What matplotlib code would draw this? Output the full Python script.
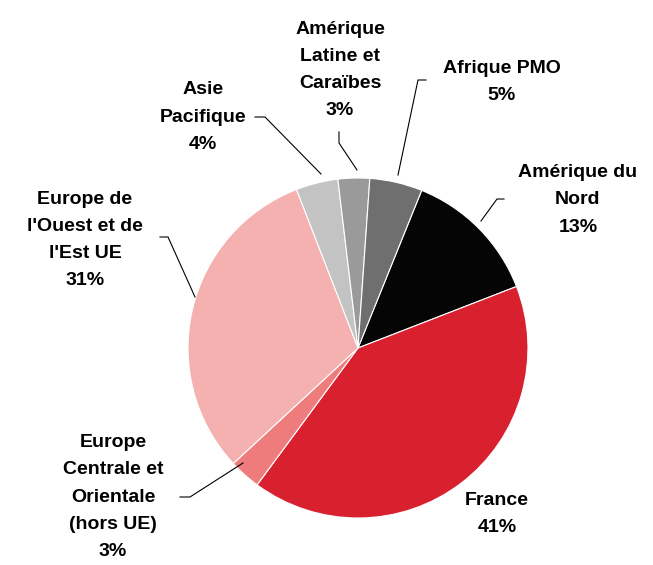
import matplotlib
matplotlib.use("Agg")
import matplotlib.pyplot as plt

# parts of the total, clockwise from Amérique du Nord
labels = ["Amérique du\nNord", "France", "Europe\nCentrale et\nOrientale\n(hors UE)",
          "Europe de\nl'Ouest et de\nl'Est UE", "Asie\nPacifique",
          "Amérique\nLatine et\nCaraïbes", "Afrique PMO"]
shares = [13, 41, 3, 31, 4, 3, 5]
colors = ["#050505", "#d8202f", "#ef7c7c", "#f5b0b0", "#c3c3c3", "#9a9a9a", "#6f6f6f"]

W, H = 653, 565
fig = plt.figure(figsize=(W / 100, H / 100), dpi=100)
ax = fig.add_axes([0, 0, 1, 1])

cx, cy, r = 358, H - 348, 170
wedges, _ = ax.pie(shares, colors=colors, startangle=68, counterclock=False,
                   center=(cx, cy), radius=r,
                   wedgeprops=dict(edgecolor="white", linewidth=0.8))
ax.set_xlim(0, W)
ax.set_ylim(0, H)
ax.set_aspect("equal")
ax.axis("off")

# label centre (pixels) and leader path (pixels) for each slice
lab_pos = [(578, 200), (497, 514), (113, 497), (85, 240), (203, 117), (340, 70), (502, 82)]
leaders = [
    [(481, 221), (497, 199), (504, 199)],
    None,
    [(243, 463), (190, 497), (180, 497)],
    [(195, 297), (168, 237), (160, 237)],
    [(321, 174), (265, 117), (255, 117)],
    [(357, 170), (339, 143), (339, 132)],
    [(398, 175), (418, 80), (426, 80)],
]

font = dict(family=["Liberation Sans", "DejaVu Sans"], fontsize=14, fontweight="bold")
for lab, s, (x, y), path in zip(labels, shares, lab_pos, leaders):
    ax.text(x, H - y, f"{lab}\n{s}%", ha="center", va="center",
            linespacing=1.78, **font)
    if path:
        ax.plot([p[0] for p in path], [H - p[1] for p in path],
                color="black", lw=0.8)

fig.savefig("out.png", dpi=100)
